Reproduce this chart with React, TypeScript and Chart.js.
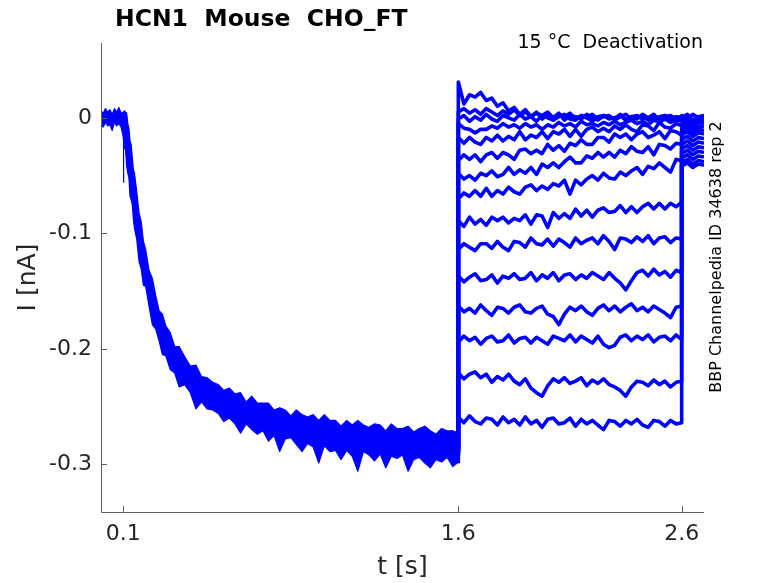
import React, { useEffect, useRef } from "react";
import { Chart, registerables } from "chart.js";

Chart.register(...registerables);

const titleText = "HCN1  Mouse  CHO_FT";
const conditionText = "15 °C  Deactivation";
const sourceText = "BBP Channelpedia ID 34638 rep 2";
const xAxisLabel = "t [s]";
const yAxisLabel = "I [nA]";

const xTickValues = [0.1, 1.6, 2.6];
const xTickLabels = ["0.1", "1.6", "2.6"];
const yTickValues = [-0.3, -0.2, -0.1, 0];
const yTickLabels = ["-0.3", "-0.2", "-0.1", "0"];

// holding period before the hyperpolarising step (s, pA)
const holdTimes = [0, 0.01, 0.02, 0.03, 0.04, 0.05, 0.06, 0.07, 0.08, 0.09];
const holdUpperPA = [6, 4, 8, 5, 7, 3, 8, 5, 9, 4];
const holdLowerPA = [-5, -8, -4, -7, -6, -11, -4, -7, -5, -8];

// activation phase shared by all sweeps: upper and lower edge of the overlapping traces
const activationTimes = [
  0.1, 0.105, 0.11, 0.115, 0.12, 0.125, 0.13, 0.135, 0.14, 0.145, 0.15,
  0.16, 0.17, 0.18, 0.19, 0.2,
  0.215, 0.23, 0.245, 0.26, 0.275, 0.29,
  0.31, 0.33, 0.35,
  0.375, 0.4, 0.425, 0.45, 0.475, 0.5,
  0.525, 0.55, 0.575, 0.6, 0.625, 0.65, 0.675, 0.7, 0.725, 0.75, 0.775, 0.8,
  0.825, 0.85, 0.875, 0.9, 0.925, 0.95, 0.975, 1.0, 1.025, 1.05, 1.075, 1.1,
  1.125, 1.15, 1.175, 1.2, 1.225, 1.25, 1.275, 1.3, 1.325, 1.35, 1.375, 1.4,
  1.425, 1.45, 1.475, 1.5, 1.525, 1.55, 1.575, 1.6,
];
const activationUpperPA = [
  5, 6, 5, 4, -5, -9, -20, -23, -34, -45, -48,
  -64, -82, -90, -107, -114,
  -132, -139, -154, -167, -170, -180,
  -186, -198, -198,
  -207, -215, -214, -224, -225, -229,
  -231, -236, -234, -239, -238, -246, -241, -247, -247, -247, -253, -251,
  -253, -258, -253, -257, -259, -257, -262, -257, -262, -262, -267, -262,
  -266, -262, -266, -268, -265, -266, -271, -265, -269, -269, -267, -272,
  -269, -267, -271, -274, -269, -271, -271, -273,
];
const activationLowerPA = [
  -17, -26, -28, -42, -48, -52, -68, -71, -75, -88, -96,
  -105, -124, -131, -145, -146,
  -163, -179, -183, -193, -205, -206,
  -218, -221, -233,
  -231, -238, -252, -246, -252, -253,
  -256, -263, -260, -265, -273, -265, -270, -274, -271, -280, -275, -289,
  -278, -277, -283, -289, -282, -285, -299, -284, -289, -288, -296, -288,
  -293, -306, -289, -292, -297, -291, -303, -293, -295, -292, -306, -296,
  -294, -299, -303, -296, -298, -294, -302, -298,
];

// capacitive transient at step onset
const onsetTimes = [0.1, 0.101, 0.102];
const onsetPA = [-6, -56, -14];

// test pulses (deactivation) 1.6 s .. 2.6 s
const testTimes = [
  1.6, 1.625, 1.65, 1.675, 1.7, 1.725, 1.75, 1.775, 1.8, 1.825, 1.85, 1.875,
  1.9, 1.925, 1.95, 1.975, 2.0, 2.025, 2.05, 2.075, 2.1, 2.125, 2.15, 2.175,
  2.2, 2.225, 2.25, 2.275, 2.3, 2.325, 2.35, 2.375, 2.4, 2.425, 2.45, 2.475,
  2.5, 2.525, 2.55, 2.575, 2.6,
];
const testStartPA = [-299, -292, -288, -286, -290, -285, -287, -289, -284, -291, -286, -288, -290, -287, -293];

const testPA1 = [31, 12, 20, 18, 22, 15, 17, 10, 13, 6, 9, 3, 7, 1, 5, -1, 3, 0, 4, -2, 2, 1, -1, 3, 0, -2, 2, 1, -1, 3, -2, 1, 2, -1, 0, 3, -2, 1, 2, -1, 1];
const testPA2 = [5, 8, 4, 7, 3, 8, 5, 2, 6, 3, 7, 2, 5, 1, 4, 2, 5, 0, 3, 1, 4, -1, 2, 0, 3, -1, 1, 2, -2, 1, 3, -1, 0, 2, -2, 1, 0, 2, -1, 1, 0];
const testPA3 = [-1, 2, -3, 1, -2, 3, -1, -3, 2, 0, -2, 3, -1, 1, -3, 2, 0, -2, 1, 3, -1, -2, 2, 0, -3, 1, 2, -1, 0, 2, -2, 1, -1, 3, 0, -2, 1, 2, -1, 0, 1];
const testPA4 = [-5, -9, -10, -13, -10, -10, -7, -9, -5, -8, -6, -9, -5, -8, -6, -10, -6, -8, -4, -7, -5, -8, -3, -6, -5, -7, -4, -6, -3, -6, -4, -2, -5, -3, -6, -2, -4, -1, -4, -2, -3];
const testPA5 = [-17, -22, -17, -21, -23, -17, -20, -15, -20, -16, -19, -12, -19, -15, -17, -12, -18, -12, -14, -10, -16, -10, -16, -10, -8, -12, -9, -12, -7, -10, -6, -10, -12, -6, -7, -11, -4, -8, -9, -5, -7];
const testPA6 = [-37, -32, -36, -32, -38, -32, -30, -35, -30, -32, -36, -28, -27, -31, -28, -31, -23, -28, -24, -29, -22, -24, -19, -23, -23, -17, -17, -21, -14, -17, -14, -19, -14, -12, -17, -15, -12, -18, -11, -12, -15];
const testPA7 = [-48, -53, -50, -54, -48, -50, -46, -51, -49, -43, -49, -45, -48, -43, -49, -40, -43, -39, -43, -38, -34, -39, -39, -33, -35, -30, -34, -30, -34, -28, -31, -25, -29, -30, -25, -32, -23, -24, -27, -22, -23];
const testPA8 = [-70, -65, -68, -63, -68, -61, -68, -63, -66, -60, -64, -66, -60, -58, -63, -59, -62, -57, -59, -54, -66, -54, -58, -53, -50, -54, -48, -52, -53, -47, -50, -46, -43, -49, -42, -44, -39, -43, -47, -36, -37];
const testPA9 = [-89, -94, -86, -92, -88, -93, -86, -89, -86, -91, -87, -89, -84, -92, -84, -85, -95, -82, -87, -83, -87, -79, -85, -80, -86, -80, -78, -82, -81, -76, -82, -77, -82, -77, -74, -79, -74, -79, -74, -77, -73];
const testPA10 = [-114, -109, -112, -115, -109, -109, -113, -107, -112, -115, -107, -108, -112, -104, -109, -110, -105, -111, -105, -108, -112, -104, -109, -106, -104, -109, -102, -107, -114, -104, -105, -108, -103, -107, -102, -109, -104, -103, -108, -104, -105];
const testPA11 = [-137, -142, -138, -135, -141, -140, -136, -143, -137, -139, -135, -140, -139, -134, -141, -136, -139, -134, -141, -136, -135, -140, -136, -139, -134, -137, -140, -134, -139, -143, -149, -141, -134, -132, -137, -131, -136, -133, -138, -132, -134];
const testPA12 = [-163, -168, -165, -169, -162, -167, -171, -164, -165, -169, -164, -162, -168, -169, -165, -163, -170, -172, -179, -170, -164, -167, -163, -168, -171, -165, -162, -167, -163, -168, -164, -161, -167, -164, -168, -163, -166, -169, -173, -164, -163];
const testPA13 = [-194, -189, -193, -190, -196, -191, -189, -194, -193, -188, -195, -191, -190, -195, -190, -193, -196, -189, -191, -193, -188, -194, -189, -192, -195, -189, -196, -199, -197, -190, -188, -193, -189, -192, -188, -194, -190, -189, -193, -188, -192];
const testPA14 = [-221, -226, -222, -220, -225, -222, -229, -224, -227, -222, -228, -231, -226, -234, -238, -241, -232, -226, -229, -225, -230, -228, -225, -232, -227, -230, -226, -231, -233, -236, -241, -233, -228, -229, -232, -227, -231, -228, -233, -229, -228];
const testPA15 = [-259, -264, -258, -263, -265, -260, -261, -266, -259, -264, -261, -266, -259, -265, -262, -268, -261, -260, -265, -264, -260, -267, -261, -265, -262, -266, -270, -262, -263, -267, -262, -265, -261, -266, -268, -262, -263, -267, -262, -265, -264];

// return to holding after 2.6 s
const tailTimes = [2.6, 2.625, 2.65, 2.675, 2.7];
const tailPA1 = [2, -1, 3, 0, 2];
const tailPA2 = [0, 3, -2, 1, 2];
const tailPA3 = [-2, 1, -3, 0, -1];
const tailPA4 = [-4, -1, -5, -2, -3];
const tailPA5 = [-6, -3, -7, -4, -5];
const tailPA6 = [-9, -6, -10, -7, -8];
const tailPA7 = [-12, -9, -13, -10, -11];
const tailPA8 = [-15, -12, -16, -13, -14];
const tailPA9 = [-19, -16, -20, -17, -18];
const tailPA10 = [-23, -20, -24, -21, -22];
const tailPA11 = [-27, -24, -28, -25, -26];
const tailPA12 = [-31, -28, -32, -29, -30];
const tailPA13 = [-35, -32, -36, -33, -34];
const tailPA14 = [-39, -36, -40, -37, -38];
const tailPA15 = [-42, -39, -43, -40, -41];

const testSweeps = [testPA1, testPA2, testPA3, testPA4, testPA5, testPA6, testPA7, testPA8, testPA9, testPA10, testPA11, testPA12, testPA13, testPA14, testPA15];
const tailSweeps = [tailPA1, tailPA2, tailPA3, tailPA4, tailPA5, tailPA6, tailPA7, tailPA8, tailPA9, tailPA10, tailPA11, tailPA12, tailPA13, tailPA14, tailPA15];

const BLUE = "#0000ff";
const FONT = "'DejaVu Sans', 'Liberation Sans', sans-serif";

const toPoints = (times: number[], pa: number[]) =>
  times.map((t, i) => ({ x: t, y: pa[i] / 1000 }));

const decorPlugin = {
  id: "decor",
  afterDraw(chart: any) {
    const { ctx, chartArea: a, scales } = chart;
    ctx.save();
    ctx.strokeStyle = "#5e5e5e";
    ctx.lineWidth = 1;
    ctx.beginPath();
    ctx.moveTo(a.left + 0.5, a.top);
    ctx.lineTo(a.left + 0.5, a.bottom + 0.5);
    ctx.lineTo(a.right, a.bottom + 0.5);
    for (const v of xTickValues) {
      const px = Math.round(scales.x.getPixelForValue(v)) + 0.5;
      ctx.moveTo(px, a.bottom);
      ctx.lineTo(px, a.bottom - 6);
    }
    for (const v of yTickValues) {
      const py = Math.round(scales.y.getPixelForValue(v)) + 0.5;
      ctx.moveTo(a.left, py);
      ctx.lineTo(a.left + 6, py);
    }
    ctx.stroke();

    ctx.fillStyle = "#000000";
    ctx.font = `bold 23.5px ${FONT}`;
    ctx.textAlign = "left";
    ctx.textBaseline = "alphabetic";
    ctx.fillText(titleText, 115, 26);

    ctx.font = `19px ${FONT}`;
    ctx.textAlign = "right";
    ctx.fillText(conditionText, 703, 48);

    ctx.fillStyle = "#262626";
    ctx.font = `25px ${FONT}`;
    ctx.textAlign = "center";
    ctx.textBaseline = "middle";
    ctx.fillText(xAxisLabel, (a.left + a.right) / 2, 567);

    ctx.save();
    ctx.translate(28, (a.top + a.bottom) / 2);
    ctx.rotate(-Math.PI / 2);
    ctx.fillText(yAxisLabel, 0, 0);
    ctx.restore();

    ctx.save();
    ctx.fillStyle = "#000000";
    ctx.font = `16px ${FONT}`;
    ctx.translate(717, 257);
    ctx.rotate(-Math.PI / 2);
    ctx.fillText(sourceText, 0, 0);
    ctx.restore();

    ctx.restore();
  },
};

export default function App() {
  const canvasRef = useRef<HTMLCanvasElement | null>(null);

  useEffect(() => {
    if (!canvasRef.current) return;

    const upper = toPoints([...holdTimes, ...activationTimes], [...holdUpperPA, ...activationUpperPA]);
    const lower = toPoints([...holdTimes, ...activationTimes], [...holdLowerPA, ...activationLowerPA]);

    const datasets: any[] = [
      { data: upper, borderColor: BLUE, borderWidth: 1.2, fill: false },
      { data: lower, borderColor: BLUE, borderWidth: 1.2, fill: "-1", backgroundColor: BLUE },
      { data: toPoints(onsetTimes, onsetPA), borderColor: BLUE, borderWidth: 1, fill: false },
    ];
    testSweeps.forEach((sweep, i) => {
      datasets.push({
        data: [
          { x: testTimes[0], y: testStartPA[i] / 1000 },
          ...toPoints(testTimes, sweep),
          ...toPoints(tailTimes, tailSweeps[i]),
        ],
        borderColor: BLUE,
        borderWidth: 3.6,
        fill: false,
      });
    });

    const chart = new Chart(canvasRef.current, {
      type: "line",
      data: { datasets },
      options: {
        animation: false,
        responsive: false,
        devicePixelRatio: 1,
        layout: { padding: { top: 43, right: 74, left: 0, bottom: 0 } },
        elements: {
          point: { radius: 0 },
          line: { tension: 0, borderJoinStyle: "round" },
        },
        plugins: { legend: { display: false }, tooltip: { enabled: false } },
        scales: {
          x: {
            type: "linear",
            min: 0,
            max: 2.7,
            afterBuildTicks: (s: any) => {
              s.ticks = xTickValues.map((v) => ({ value: v }));
            },
            afterFit: (s: any) => {
              s.height = 71;
            },
            ticks: {
              autoSkip: false,
              maxRotation: 0,
              padding: 9,
              color: "#262626",
              font: { family: FONT, size: 22 },
              callback: (v: any) => xTickLabels[xTickValues.indexOf(v)] ?? "",
            },
            grid: { display: false, drawTicks: false },
            border: { display: false },
          },
          y: {
            type: "linear",
            min: -0.3413,
            max: 0.0648,
            afterBuildTicks: (s: any) => {
              s.ticks = yTickValues.map((v) => ({ value: v }));
            },
            afterFit: (s: any) => {
              s.width = 101;
            },
            ticks: {
              autoSkip: false,
              padding: 9,
              color: "#262626",
              font: { family: FONT, size: 22 },
              callback: (v: any) => yTickLabels[yTickValues.indexOf(v)] ?? "",
            },
            grid: { display: false, drawTicks: false },
            border: { display: false },
          },
        },
      },
      plugins: [decorPlugin],
    });

    return () => chart.destroy();
  }, []);

  return (
    <div style={{ position: "absolute", left: 0, top: 0, width: 778, height: 583, background: "#ffffff" }}>
      <canvas ref={canvasRef} width={778} height={583} style={{ display: "block" }} />
    </div>
  );
}
